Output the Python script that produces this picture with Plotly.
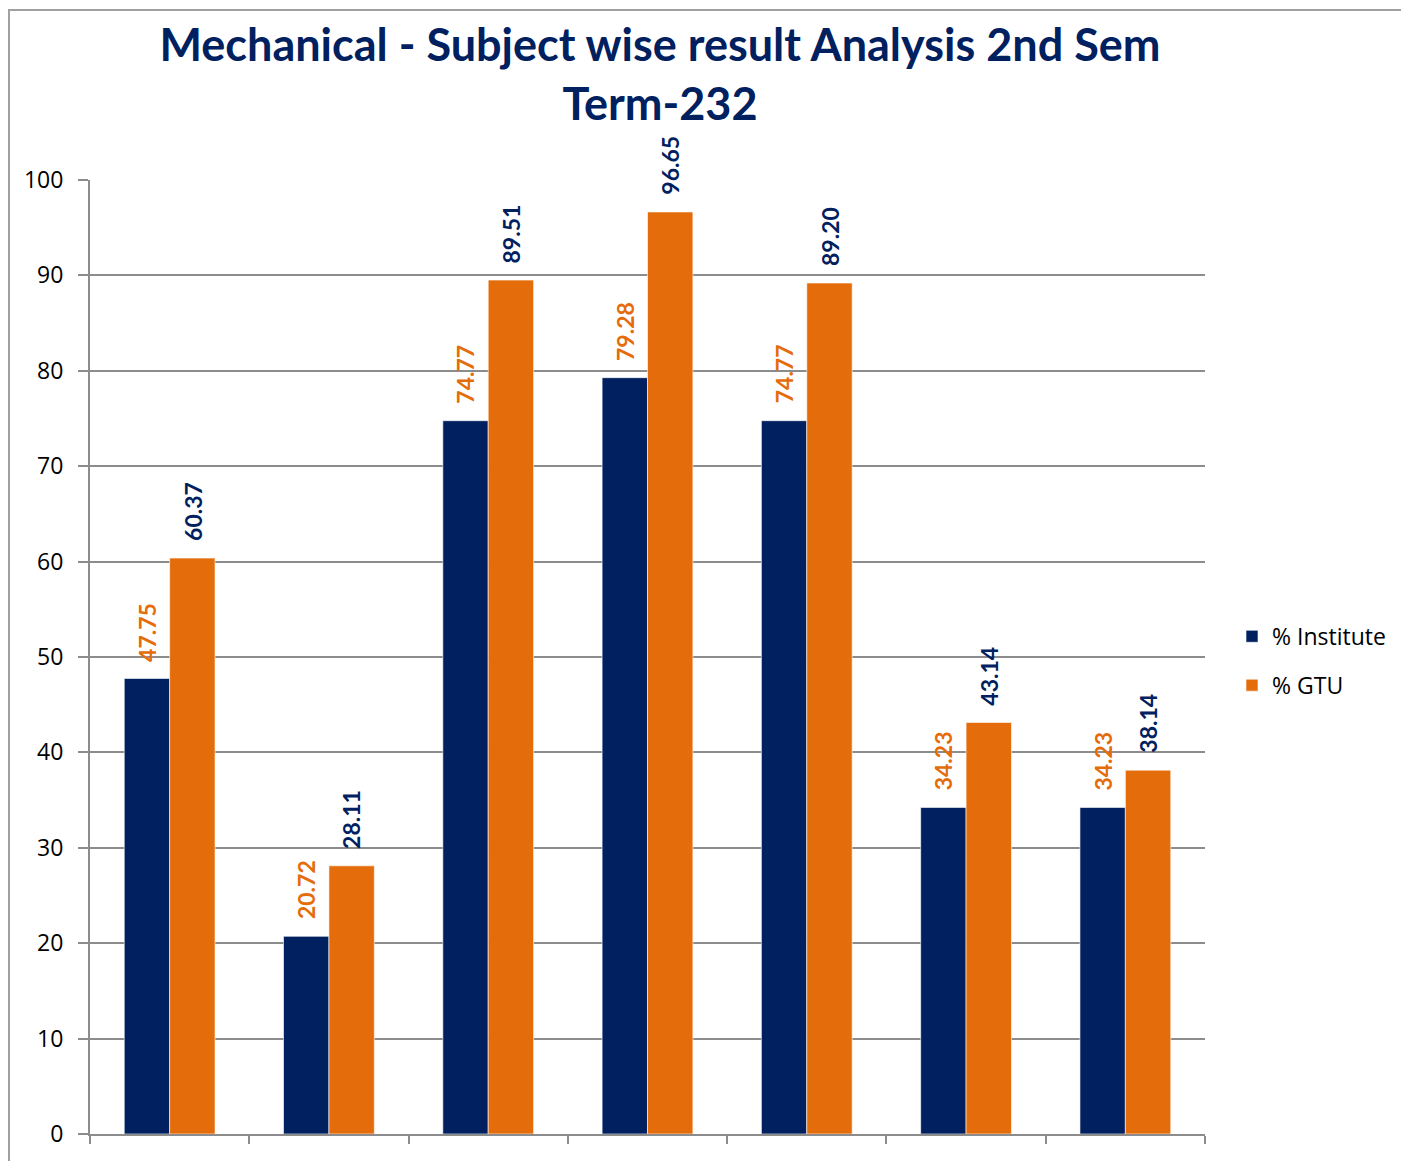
import plotly.graph_objects as go

categories = ["Subject 1", "Subject 2", "Subject 3", "Subject 4", "Subject 5", "Subject 6", "Subject 7"]
institute = [47.75, 20.72, 74.77, 79.28, 74.77, 34.23, 34.23]
gtu = [60.37, 28.11, 89.51, 96.65, 89.20, 43.14, 38.14]
series_names = ["% Institute", "% GTU"]
y_ticks = [0, 10, 20, 30, 40, 50, 60, 70, 80, 90, 100]

NAVY = "#002060"
ORANGE = "#E46C0A"
GRID = "#8C8C8C"
BARGAP = 0.43

# page has 8px body margin; figure coords = page coords - 8
W, H = 1401, 1153
L, T = 82, 172
PW, PH = 1115, 960
R = W - L - PW
B = H - T - PH

fig = go.Figure()
fig.add_trace(go.Bar(x=categories, y=institute, name=series_names[0], legendgroup="a",
                     marker=dict(color=NAVY, line=dict(color="rgba(255,255,255,0.6)", width=1))))
fig.add_trace(go.Bar(x=categories, y=gtu, name=series_names[1], legendgroup="b",
                     marker=dict(color=ORANGE, line=dict(color="rgba(255,255,255,0.6)", width=1))))

off = (1 - BARGAP) / 4
annots = []
for i, (a, b) in enumerate(zip(institute, gtu)):
    annots.append(dict(x=i - off, y=a, xref="x", yref="y", text=f"{a:.2f}", showarrow=False,
                       textangle=-90, yanchor="bottom", xanchor="center", yshift=15,
                       font=dict(family="Lato", size=23, color=ORANGE, weight="bold")))
    annots.append(dict(x=i + off, y=b, xref="x", yref="y", text=f"{b:.2f}", showarrow=False,
                       textangle=-90, yanchor="bottom", xanchor="center", yshift=15,
                       font=dict(family="Lato", size=23, color=NAVY, weight="bold")))

fig.update_layout(
    width=W, height=H,
    margin=dict(l=L, r=R, t=T, b=B),
    paper_bgcolor="white", plot_bgcolor="white",
    barmode="group", bargap=BARGAP, bargroupgap=0,
    title=dict(text="Mechanical - Subject wise result Analysis 2nd Sem<br>Term-232",
               x=(660 - 8) / W, xanchor="center", y=1 - 53 / H, yanchor="bottom",
               font=dict(family="Lato", size=45, color=NAVY, weight="bold")),
    font=dict(family="Open Sans", size=20, color="black"),
    legend=dict(x=(1232 - 8 - L) / PW, y=0.496, xanchor="left", yanchor="middle",
                font=dict(family="Open Sans", size=23, color="black"),
                itemwidth=30, tracegroupgap=16),
    annotations=annots,
    shapes=[dict(type="rect", xref="paper", yref="paper",
                 x0=(9 - 90) / PW, x1=1.5, y0=-0.5, y1=(PH + T - 1) / PH,
                 line=dict(color="#A0A0A0", width=2), fillcolor="rgba(0,0,0,0)", layer="below")],
)
fig.update_xaxes(type="category", showticklabels=False, ticks="outside", tickson="boundaries",
                 ticklen=8, tickcolor=GRID, tickwidth=2, showline=True, linecolor=GRID, linewidth=2,
                 showgrid=False)
fig.update_yaxes(range=[0, 100], tickvals=y_ticks, ticks="outside", ticklen=10, tickcolor=GRID,
                 tickwidth=2, showline=True, linecolor=GRID, linewidth=2, showgrid=True,
                 gridcolor=GRID, gridwidth=2, zeroline=False, ticklabelstandoff=10,
                 tickfont=dict(family="Open Sans", size=23, color="black"))

fig.write_html("out.html")
